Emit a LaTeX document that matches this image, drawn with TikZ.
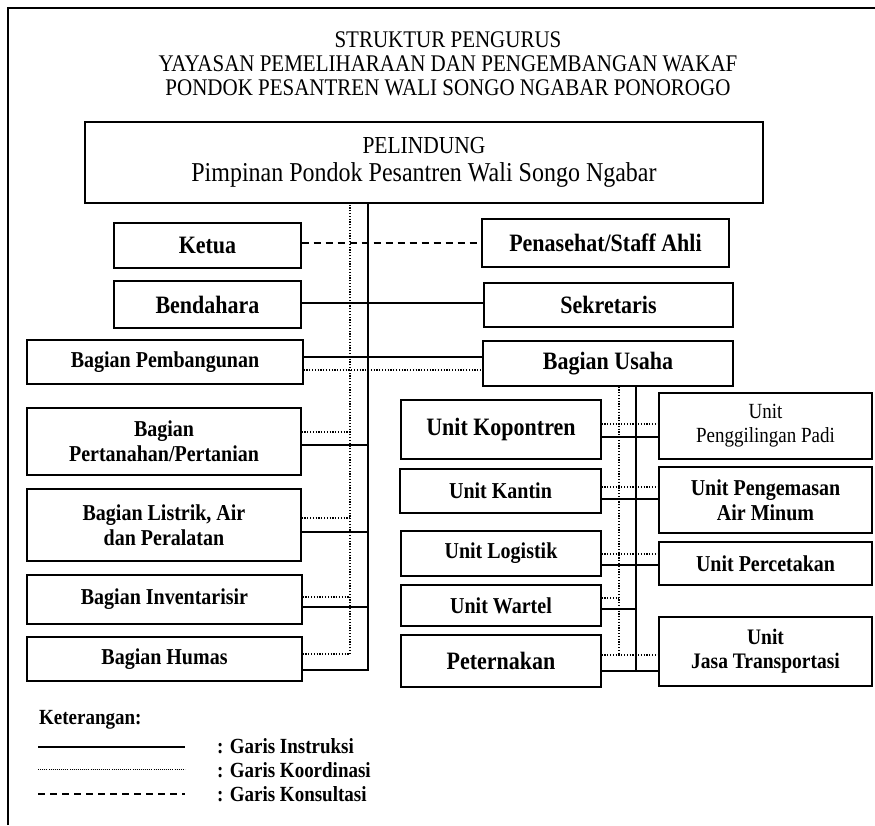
\documentclass[tikz,border=0pt]{standalone}
\usepackage{fontspec}
\setmainfont{Liberation Serif}[FakeStretch=0.88,Scale=1.136]
\begin{document}
\begin{tikzpicture}[x=1pt,y=-1pt,
  box/.style={draw,line width=1.3pt,inner sep=0pt,align=center},
  fa/.style={font=\bfseries\fontsize{22}{26}\selectfont},
  fb/.style={font=\bfseries\fontsize{20}{25}\selectfont},
  fc/.style={font=\fontsize{19}{24}\selectfont},
  fd/.style={font=\bfseries\fontsize{19.5}{24}\selectfont},
  leg/.style={font=\bfseries\fontsize{19}{22}\selectfont,anchor=west,inner sep=0pt},
  instr/.style={line width=1.3pt},
  koord/.style={line width=1.2pt,dash pattern=on 1.2pt off 1.6pt},
  kons/.style={line width=1.3pt,dash pattern=on 7pt off 5pt},
  frame/.style={line width=2pt}]
\useasboundingbox (0,0) rectangle (875,825);
% frame
\coordinate (fbl) at (8,825);
\coordinate (ftl) at (8,8);
\coordinate (ftr) at (875,8);
\draw[frame] (fbl) -- (ftl) -- (ftr);
% title
\node[align=center,inner sep=0pt,font=\fontsize{21}{24}\selectfont] (title) at (448,64)
  {STRUKTUR PENGURUS\\YAYASAN PEMELIHARAAN DAN PENGEMBANGAN WAKAF\\PONDOK PESANTREN WALI SONGO NGABAR PONOROGO};
% boxes
\node[box,minimum width=678pt,minimum height=81pt,font=\fontsize{24}{28}\selectfont] (pel) at (424,162.5)
  {{\fontsize{21.5}{28}\selectfont PELINDUNG}\\Pimpinan Pondok Pesantren Wali Songo Ngabar};
\node[box,fa,minimum width=187pt,minimum height=45pt] (ketua) at (207.5,245.5) {Ketua};
\node[box,fa,minimum width=247pt,minimum height=48pt] (pen) at (605.5,243) {Penasehat/Staff Ahli};
\node[box,fa,minimum width=187pt,minimum height=47pt] (bend) at (207.5,304.5) {Bendahara};
\node[box,fa,minimum width=249pt,minimum height=44pt] (sek) at (608.5,305) {Sekretaris};
\node[box,fb,minimum width=276pt,minimum height=44pt] (pemb) at (165,362) {Bagian Pembangunan};
\node[box,fa,minimum width=250pt,minimum height=45pt] (usaha) at (608,363.5) {Bagian Usaha};
\node[box,fb,minimum width=274pt,minimum height=67pt] (pert) at (164,441.5) {Bagian\\Pertanahan/Pertanian};
\node[box,fb,minimum width=274pt,minimum height=72pt] (listrik) at (164,525) {Bagian Listrik, Air\\dan Peralatan};
\node[box,fb,minimum width=275pt,minimum height=49pt] (inv) at (164.5,599.5) {Bagian Inventarisir};
\node[box,fb,minimum width=275pt,minimum height=44pt] (humas) at (164.5,659) {Bagian Humas};
\node[box,fa,minimum width=200pt,minimum height=59pt] (kop) at (501,429.5) {\raisebox{5pt}{Unit Kopontren}};
\node[box,fb,minimum width=201pt,minimum height=44pt] (kantin) at (500.5,491) {Unit Kantin};
\node[box,fb,minimum width=200pt,minimum height=45pt] (log) at (501,553.5) {Unit Logistik};
\node[box,fb,minimum width=200pt,minimum height=41pt] (wartel) at (501,605.5) {\raisebox{-3pt}{Unit Wartel}};
\node[box,fa,minimum width=200pt,minimum height=52pt] (petern) at (501,661) {Peternakan};
\node[box,fc,minimum width=213pt,minimum height=66pt] (padi) at (765.5,426) {Unit\\Penggilingan Padi};
\node[box,fb,minimum width=213pt,minimum height=66pt] (kemas) at (765.5,500) {Unit Pengemasan\\Air Minum};
\node[box,fb,minimum width=213pt,minimum height=43pt] (cetak) at (765.5,563.5) {Unit Percetakan};
\node[box,fd,minimum width=213pt,minimum height=69pt] (jasa) at (765.5,651.5) {Unit\\Jasa Transportasi};
% trunks
\coordinate (ts) at (368,203);
\coordinate (td) at (350,203);
\coordinate (rs) at (636,386);
\coordinate (rd) at (619,386);
\draw[instr] (humas.east |- 0,670) -| (pel.south -| ts);
\draw[koord] (humas.east |- 0,654) -| (pel.south -| td);
% top connectors
\draw[kons] (ketua.east |- 0,243) -- (pen.west |- 0,243);
\draw[instr] (bend.east |- 0,303) -- (sek.west |- 0,303);
\draw[instr] (pemb.east |- 0,357) -- (usaha.west |- 0,357);
\draw[koord] (pemb.east |- 0,370) -- (usaha.west |- 0,370);
% left connectors
\draw[instr] (pert.east |- 0,445) -- (ts |- 0,445);
\draw[koord] (pert.east |- 0,432) -- (td |- 0,432);
\draw[instr] (listrik.east |- 0,532) -- (ts |- 0,532);
\draw[koord] (listrik.east |- 0,518) -- (td |- 0,518);
\draw[instr] (inv.east |- 0,607) -- (ts |- 0,607);
\draw[koord] (inv.east |- 0,597) -- (td |- 0,597);
% right trunks
\draw[instr] (usaha.south -| rs) -- (rs |- 0,671);
\draw[koord] (usaha.south -| rd) -- (rd |- 0,655);
% right connectors
\draw[instr] (kop.east |- 0,437) -- (padi.west |- 0,437);
\draw[koord] (kop.east |- 0,424) -- (padi.west |- 0,424);
\draw[instr] (kantin.east |- 0,499) -- (kemas.west |- 0,499);
\draw[koord] (kantin.east |- 0,487) -- (kemas.west |- 0,487);
\draw[instr] (log.east |- 0,565) -- (cetak.west |- 0,565);
\draw[koord] (log.east |- 0,554) -- (cetak.west |- 0,554);
\draw[instr] (wartel.east |- 0,609) -- (rs |- 0,609);
\draw[koord] (wartel.east |- 0,598) -- (rd |- 0,598);
\draw[instr] (petern.east |- 0,671) -- (jasa.west |- 0,671);
\draw[koord] (petern.east |- 0,655) -- (jasa.west |- 0,655);
% legend
\node[leg] (ket) at (39,720) {Keterangan:};
\coordinate (l1a) at (38,747); \coordinate (l1b) at (185,747);
\coordinate (l2a) at (38,769); \coordinate (l2b) at (185,769);
\coordinate (l3a) at (38,794); \coordinate (l3b) at (185,794);
\draw[instr,line width=1.5pt] (l1a) -- (l1b);
\draw[line width=0.9pt,dash pattern=on 0.9pt off 1.2pt] (l2a) -- (l2b);
\draw[line width=1.3pt,dash pattern=on 7pt off 5pt] (l3a) -- (l3b);
\node[leg] (g1) at (217,746) {: Garis Instruksi};
\node[leg] (g2) at (217,770) {: Garis Koordinasi};
\node[leg] (g3) at (217,794) {: Garis Konsultasi};
\end{tikzpicture}
\end{document}
